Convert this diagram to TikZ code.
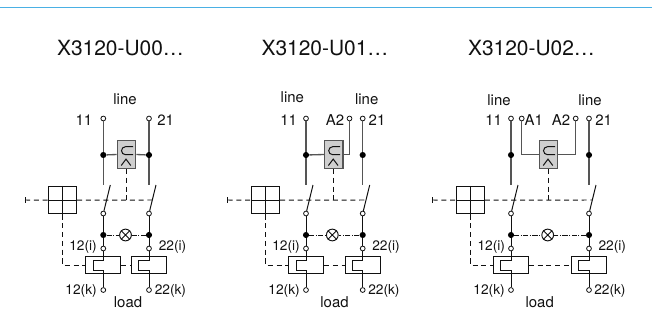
\documentclass[tikz,border=0pt]{standalone}
\usepackage{fontspec}
\setmainfont{TeX Gyre Heros}
\definecolor{wiregray}{HTML}{555555}
\definecolor{boxfill}{HTML}{CFCFCF}
\definecolor{ink}{HTML}{111111}
\definecolor{rulecol}{HTML}{4AB0E4}
\tikzset{
  x=0.75pt,y=-0.75pt,
  term/.style={circle,draw=ink,fill=white,line width=0.6pt,inner sep=0pt,minimum size=3.6pt},
  junct/.style={circle,fill=black,draw=none,inner sep=0pt,minimum size=4.6pt},
  upw/.style={draw=wiregray,line width=1pt},
  loww/.style={draw=ink,line width=0.75pt},
  dashw/.style={draw=ink,line width=0.72pt,dash pattern=on 3.8pt off 2.8pt},
  dotw/.style={draw=ink,line width=0.72pt,dash pattern=on 3.8pt off 1.1pt on 0.8pt off 1.1pt},
  relay/.style={rectangle,draw=wiregray,fill=boxfill,line width=0.9pt,inner sep=0pt,minimum width=13.8pt,minimum height=20.7pt},
  lamp/.style={circle,draw=ink,fill=white,line width=0.72pt,inner sep=0pt,minimum size=8.8pt},
  handle/.style={rectangle,draw=ink,line width=0.75pt,inner sep=0pt,minimum width=21pt,minimum height=20.6pt},
  coil/.style={rectangle,draw=ink,line width=0.75pt,inner sep=0pt,minimum width=25.9pt,minimum height=13.2pt},
  lab/.style={inner sep=0pt,font=\fontsize{11.2pt}{13pt}\selectfont,text=ink},
  num/.style={inner sep=0pt,font=\fontsize{11.2pt}{13pt}\selectfont,text=ink},
  small/.style={inner sep=0pt,font=\fontsize{10.3pt}{12pt}\selectfont,text=ink},
  ttl/.style={inner sep=0pt,font=\fontsize{15.7pt}{18pt}\selectfont,text=ink}
}
% #1 prefix, #2 x11, #3 x21, #4 x square centre, #5 x relay centre, #6 x left coil centre, #7 x right coil centre, #8 x lamp, #9 x tick
\newcommand{\panelbase}[9]{%
  \node[term] (#1t11) at (#2,118.5) {};
  \node[term] (#1t21) at (#3,118.5) {};
  \node[junct] (#1j11) at (#2,155) {};
  \node[junct] (#1j21) at (#3,155) {};
  \node[relay] (#1rel) at (#5,154.5) {};
  \coordinate (#1top1) at (#2,185);
  \coordinate (#1top2) at (#3,185);
  \coordinate (#1bl1) at (#2+7,185);
  \coordinate (#1bl2) at (#3+7,185);
  \node[term] (#1s1) at (#2,213.5) {};
  \node[term] (#1s2) at (#3,213.5) {};
  \node[junct] (#1k1) at (#2,235) {};
  \node[junct] (#1k2) at (#3,235) {};
  \node[lamp] (#1lamp) at (#8,235) {};
  \node[term] (#1i1) at (#2,248.5) {};
  \node[term] (#1i2) at (#3,248.5) {};
  \node[term] (#1o1) at (#2,290) {};
  \node[term] (#1o2) at (#3,290) {};
  \node[handle] (#1sq) at (#4,200.2) {};
  \node[coil] (#1c1) at (#6,265) {};
  \node[coil] (#1c2) at (#7,265) {};
  \coordinate (#1tick) at (#9,200);
  \coordinate (#1d1) at (#3+3.5,200);
  \coordinate (#1d2) at (#5,200);
  \coordinate (#1d3) at (#4,265);
  \coordinate (#1ia) at (#2,260);
  \coordinate (#1ib) at (#6-10.2,260);
  \coordinate (#1ic) at (#6-10.2,270);
  \coordinate (#1id) at (#2,270);
  \coordinate (#1ja) at (#3,260);
  \coordinate (#1jb) at (#7-10.2,260);
  \coordinate (#1jc) at (#7-10.2,270);
  \coordinate (#1jd) at (#3,270);
  % upper wires
  \draw[upw] (#1t11) -- (#1j11) -- (#1top1);
  \draw[upw] (#1t21) -- (#1j21) -- (#1top2);
  % blades and lower wires
  \draw[loww] (#1s1) -- (#1bl1);
  \draw[loww] (#1s2) -- (#1bl2);
  \draw[loww] (#1s1) -- (#1k1) -- (#1i1);
  \draw[loww] (#1s2) -- (#1k2) -- (#1i2);
  \draw[dotw] (#1k1) -- (#1lamp);
  \draw[dotw] (#1k2) -- (#1lamp);
  \draw[ink,line width=0.72pt] (#1lamp.north west) -- (#1lamp.south east) (#1lamp.north east) -- (#1lamp.south west);
  % relay glyphs
  \draw[ink,line width=0.75pt] ([shift={(6.5,-7.8)}]#1rel.center) -- ([shift={(-1,-7.8)}]#1rel.center) arc[start angle=-90,end angle=-270,radius=4] -- ([shift={(6.5,0.2)}]#1rel.center);
  \draw[ink,line width=0.75pt] ([shift={(-5.3,11)}]#1rel.center) -- ([shift={(-0.5,4.6)}]#1rel.center) -- ([shift={(4.3,11)}]#1rel.center);
  % dashed links
  \draw[dashw] (#1rel.south) -- (#1d2);
  \draw[dashw] (#1tick) -- (#1sq.west);
  \draw[dashw] (#1sq.east) -- (#1d1);
  \draw[dashw] (#1sq.south) -- (#1d3) -- (#1c1.west);
  \draw[dashw] (#1c1.east) -- (#1c2.west);
  \draw[ink,line width=0.72pt] ([yshift=-2.2pt]#1tick) -- ([yshift=2.2pt]#1tick);
  \draw[ink,line width=0.75pt] (#1sq.north) -- (#1sq.south) (#1sq.west) -- (#1sq.east);
  % coil inner paths
  \draw[loww] (#1i1) -- (#1ia) -- (#1ib) -- (#1ic) -- (#1id) -- (#1o1);
  \draw[loww] (#1i2) -- (#1ja) -- (#1jb) -- (#1jc) -- (#1jd) -- (#1o2);
}
\begin{document}
\begin{tikzpicture}
\useasboundingbox (0,0) rectangle (652,332);
\coordinate (ruleL) at (0,7.5);
\coordinate (ruleR) at (652,7.5);
\draw[rulecol,line width=1pt] (ruleL) -- (ruleR);
\node[ttl,anchor=base] (title1) at (120.5,55) {X3120-U00…};
\node[ttl,anchor=base] (title2) at (325,55) {X3120-U01…};
\node[ttl,anchor=base] (title3) at (531.5,55) {X3120-U02…};

% panel 1
\panelbase{a}{103.3}{149}{62.5}{126.5}{103.2}{149}{125.5}{25}
\draw[upw] (aj11) -- (arel.west);
\draw[upw] (aj21) -- (arel.east);
\node[lab,anchor=base] (al) at (125,104) {line};
\node[num,anchor=base east] (a11) at (92.5,125) {11};
\node[num,anchor=base west] (a21) at (157,125) {21};
\node[small,anchor=base east] (a12i) at (97,250) {12(i)};
\node[small,anchor=base west] (a22i) at (158.5,250) {22(i)};
\node[small,anchor=base east] (a12k) at (97,294) {12(k)};
\node[small,anchor=base west] (a22k) at (154.5,294) {22(k)};
\node[lab,anchor=base] (aload) at (128,307.3) {load};

% panel 2
\panelbase{b}{306}{362.7}{265.5}{333.7}{306.2}{362.8}{332.3}{227.5}
\node[term] (bA2) at (349.5,118.5) {};
\coordinate (bA2c) at (349.5,154.5);
\draw[upw] (bj11) -- (brel.west);
\draw[upw] (brel.east) -- (bA2c) -- (bA2);
\node[lab,anchor=base] (bl1) at (292.3,102.7) {line};
\node[lab,anchor=base] (bl2) at (366.7,104) {line};
\node[num,anchor=base] (b11) at (288.7,125) {11};
\node[num,anchor=base] (bA) at (335,125) {A2};
\node[num,anchor=base] (b21) at (377,125) {21};
\node[small,anchor=base east] (b12i) at (300,250) {12(i)};
\node[small,anchor=base west] (b22i) at (372,250) {22(i)};
\node[small,anchor=base east] (b12k) at (300,294) {12(k)};
\node[small,anchor=base west] (b22k) at (368,294) {22(k)};
\node[lab,anchor=base] (bload) at (334.5,307.3) {load};

% panel 3
\panelbase{c}{511}{589}{470.3}{548.5}{511}{588.8}{547.7}{432.5}
\node[term] (cA1) at (521.7,118.5) {};
\node[term] (cA2) at (575.7,118.5) {};
\coordinate (cA1c) at (521.7,154.5);
\coordinate (cA2c) at (575.7,154.5);
\draw[upw] (cA1) -- (cA1c) -- (crel.west);
\draw[upw] (cA2) -- (cA2c) -- (crel.east);
\node[lab,anchor=base] (cl1) at (499,105) {line};
\node[lab,anchor=base] (cl2) at (590,105) {line};
\node[num,anchor=base] (c11) at (493.7,125) {11};
\node[num,anchor=base] (cA) at (533.7,125) {A1};
\node[num,anchor=base] (cB) at (561,125) {A2};
\node[num,anchor=base] (c21) at (603.7,125) {21};
\node[small,anchor=base east] (c12i) at (505.3,250) {12(i)};
\node[small,anchor=base west] (c22i) at (598.3,250) {22(i)};
\node[small,anchor=base east] (c12k) at (505,294) {12(k)};
\node[small,anchor=base west] (c22k) at (594,294) {22(k)};
\node[lab,anchor=base] (cload) at (539.7,307.3) {load};
\end{tikzpicture}
\end{document}
